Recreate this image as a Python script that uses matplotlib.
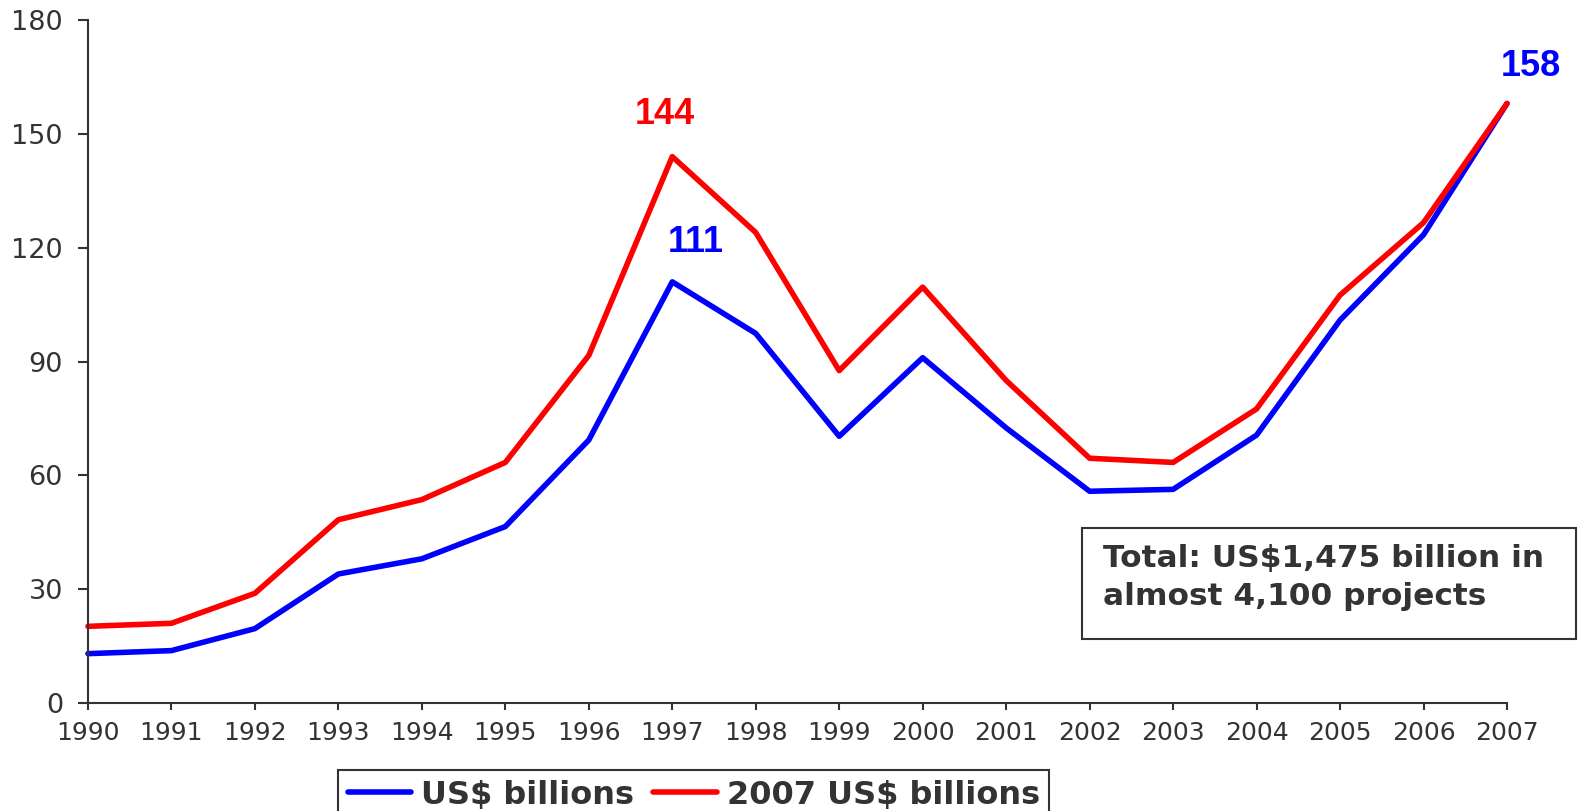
import matplotlib.pyplot as plt
from matplotlib.patches import Rectangle

plt.rcParams['font.family'] = ['DejaVu Sans']

years = list(range(1990, 2008))
us_billions = [13.0, 13.8, 19.6, 34.0, 38.0, 46.5, 69.3, 111.0, 97.4, 70.3,
               91.0, 72.5, 55.8, 56.3, 70.6, 100.9, 123.4, 158.0]
us_billions_2007 = [20.2, 21.0, 28.9, 48.3, 53.6, 63.4, 91.6, 144.0, 124.0, 87.6,
                    109.6, 85.0, 64.5, 63.4, 77.5, 107.5, 126.6, 158.0]
y_ticks = [0, 30, 60, 90, 120, 150, 180]

fig = plt.figure(figsize=(15.79, 8.11), dpi=100)
ax = fig.add_axes([0.0557, 0.1332, 0.8987, 0.8421])

ax.plot(years, us_billions, color='#0000ff', lw=4, label='US$ billions',
        solid_capstyle='round', clip_on=False)
ax.plot(years, us_billions_2007, color='#ff0000', lw=4, label='2007 US$ billions',
        solid_capstyle='round', clip_on=False)

ax.set_xlim(years[0], years[-1])
ax.set_ylim(0, 180)
ax.set_xticks(years)
ax.set_yticks(y_ticks)

for s in ['top', 'right']:
    ax.spines[s].set_visible(False)
for s in ['left', 'bottom']:
    ax.spines[s].set_color('#333333')
    ax.spines[s].set_linewidth(1.5)

ax.tick_params(axis='y', length=7, width=1.5, color='#333333', pad=11,
               labelsize=19.5, labelcolor='#333333')
ax.tick_params(axis='x', length=5, width=1.5, color='#333333', pad=8,
               labelsize=18, labelcolor='#333333')

# peak labels
lbl = dict(ha='center', va='center', fontsize=26, fontweight='bold',
           family='Liberation Sans', textcoords='offset points')
ax.annotate('144', (1997, us_billions_2007[7]), xytext=(-5, 30), color='#ff0000', **lbl)
ax.annotate('111', (1997, us_billions[7]), xytext=(17, 28), color='#0000ff', **lbl)
ax.annotate('158', (2007, us_billions[-1]), xytext=(17, 27), color='#0000ff',
            annotation_clip=False, **lbl)

# total box
fig.patches.append(Rectangle((0.685, 0.212), 0.313, 0.137, transform=fig.transFigure,
                             fill=False, edgecolor='#333333', lw=1.5))
fig.text(0.6986, 0.288, 'Total: US$1,475 billion in\nalmost 4,100 projects',
         ha='left', va='center', fontsize=22.5, fontweight='bold', color='#333333',
         linespacing=1.4)

leg = ax.legend(loc='upper left', bbox_to_anchor=(338 / 1579, 1 - 770 / 811),
                bbox_transform=fig.transFigure, ncol=2, fancybox=False,
                edgecolor='#333333', framealpha=1, borderpad=0.3, borderaxespad=0,
                handlelength=2.0, handletextpad=0.3, columnspacing=0.6,
                prop={'size': 23, 'weight': 'bold'})
leg.get_frame().set_linewidth(1.5)
for t in leg.get_texts():
    t.set_color('#333333')

fig.savefig('out.png', dpi=100)
